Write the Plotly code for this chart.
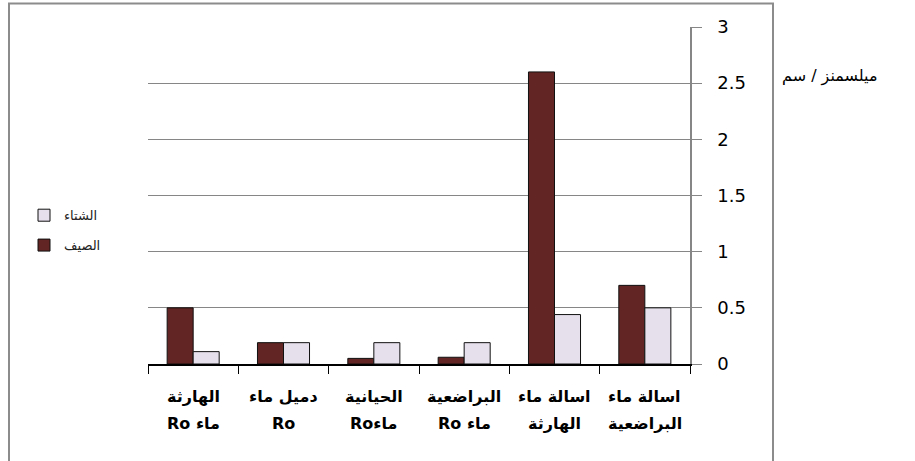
import plotly.graph_objects as go

# Conductivity per water source (mS/cm), summer vs winter
sources = ["RO_Haritha", "RO_Dumail", "RO_Hayaniya", "RO_Baradiya", "Tap_Haritha", "Tap_Baradiya"]
label_line1 = ["الهارثة", "دميل ماء", "الحيانية", "البراضعية", "اسالة ماء", "اسالة ماء"]
label_line2 = ["Ro ماء", "Ro", "Roماء", "Ro ماء", "الهارثة", "البراضعية"]
summer = [0.5, 0.19, 0.05, 0.06, 2.6, 0.7]
winter = [0.11, 0.19, 0.19, 0.19, 0.44, 0.5]
y_ticks = [0, 0.5, 1, 1.5, 2, 2.5, 3]

W, H = 915, 461
ML, MR, MT, MB = 148, 225, 26.5, 97
PW, PH = W - ML - MR, H - MT - MB


def px_x(p):
    return (p - ML) / PW


def px_y(p):
    return (H - MB - p) / PH


GRAY = "#868686"

fig = go.Figure()
fig.add_trace(go.Bar(
    x=sources, y=summer, name="الصيف", legendrank=2, legendgroup="summer",
    marker=dict(color="#632523", line=dict(color="#111111", width=1)),
))
fig.add_trace(go.Bar(
    x=sources, y=winter, name="الشتاء", legendrank=1, legendgroup="winter",
    marker=dict(color="#e6e0ec", line=dict(color="#111111", width=1)),
))

# two-line category labels under each group
for s, l1, l2 in zip(sources, label_line1, label_line2):
    fig.add_annotation(x=s, xref="x", y=px_y(397), yref="paper", text=l1,
                       showarrow=False, yanchor="middle",
                       font=dict(family="DejaVu Sans", size=16, color="#000000", weight="bold"))
    fig.add_annotation(x=s, xref="x", y=px_y(424), yref="paper", text=l2,
                       showarrow=False, yanchor="middle",
                       font=dict(family="DejaVu Sans", size=16, color="#000000", weight="bold"))

# unit label to the right of the frame
fig.add_annotation(x=px_x(780), xref="paper", y=px_y(76), yref="paper",
                   text="ميلسمنز / سم", showarrow=False, xanchor="left", yanchor="middle",
                   font=dict(family="DejaVu Sans", size=16, color="#000000"))

# outer frame
fig.add_shape(type="rect", xref="paper", yref="paper",
              x0=px_x(9), x1=px_x(773), y0=px_y(470), y1=px_y(3),
              line=dict(color="#8c8c8c", width=2), layer="below")

fig.update_layout(
    width=W, height=H,
    margin=dict(l=ML, r=MR, t=MT, b=MB, autoexpand=False),
    paper_bgcolor="white", plot_bgcolor="white",
    barmode="group", bargap=0.424, bargroupgap=0,
    font=dict(family="DejaVu Sans", color="#000000"),
    legend=dict(
        x=px_x(24), y=px_y(200), xanchor="left", yanchor="top",
        traceorder="grouped", itemwidth=30, tracegroupgap=10,
        font=dict(family="DejaVu Sans", size=13, color="#222222"),
        bgcolor="rgba(0,0,0,0)",
    ),
    xaxis=dict(
        showline=True, linecolor="#000000", linewidth=1.5,
        ticks="outside", tickson="boundaries", ticklen=8, tickcolor="#000000",
        showticklabels=False, showgrid=False, zeroline=False,
    ),
    yaxis=dict(
        side="right", range=[0, 3], tickvals=y_ticks,
        ticktext=[f"{v:g}" for v in y_ticks],
        showline=True, linecolor=GRAY, linewidth=1.5,
        ticks="outside", ticklen=10, tickcolor=GRAY,
        showgrid=True, gridcolor=GRAY, gridwidth=1.2, zeroline=False,
        ticklabelstandoff=12,
        tickfont=dict(family="DejaVu Sans", size=18, color="#000000"),
    ),
)

fig.write_html("out.html")
